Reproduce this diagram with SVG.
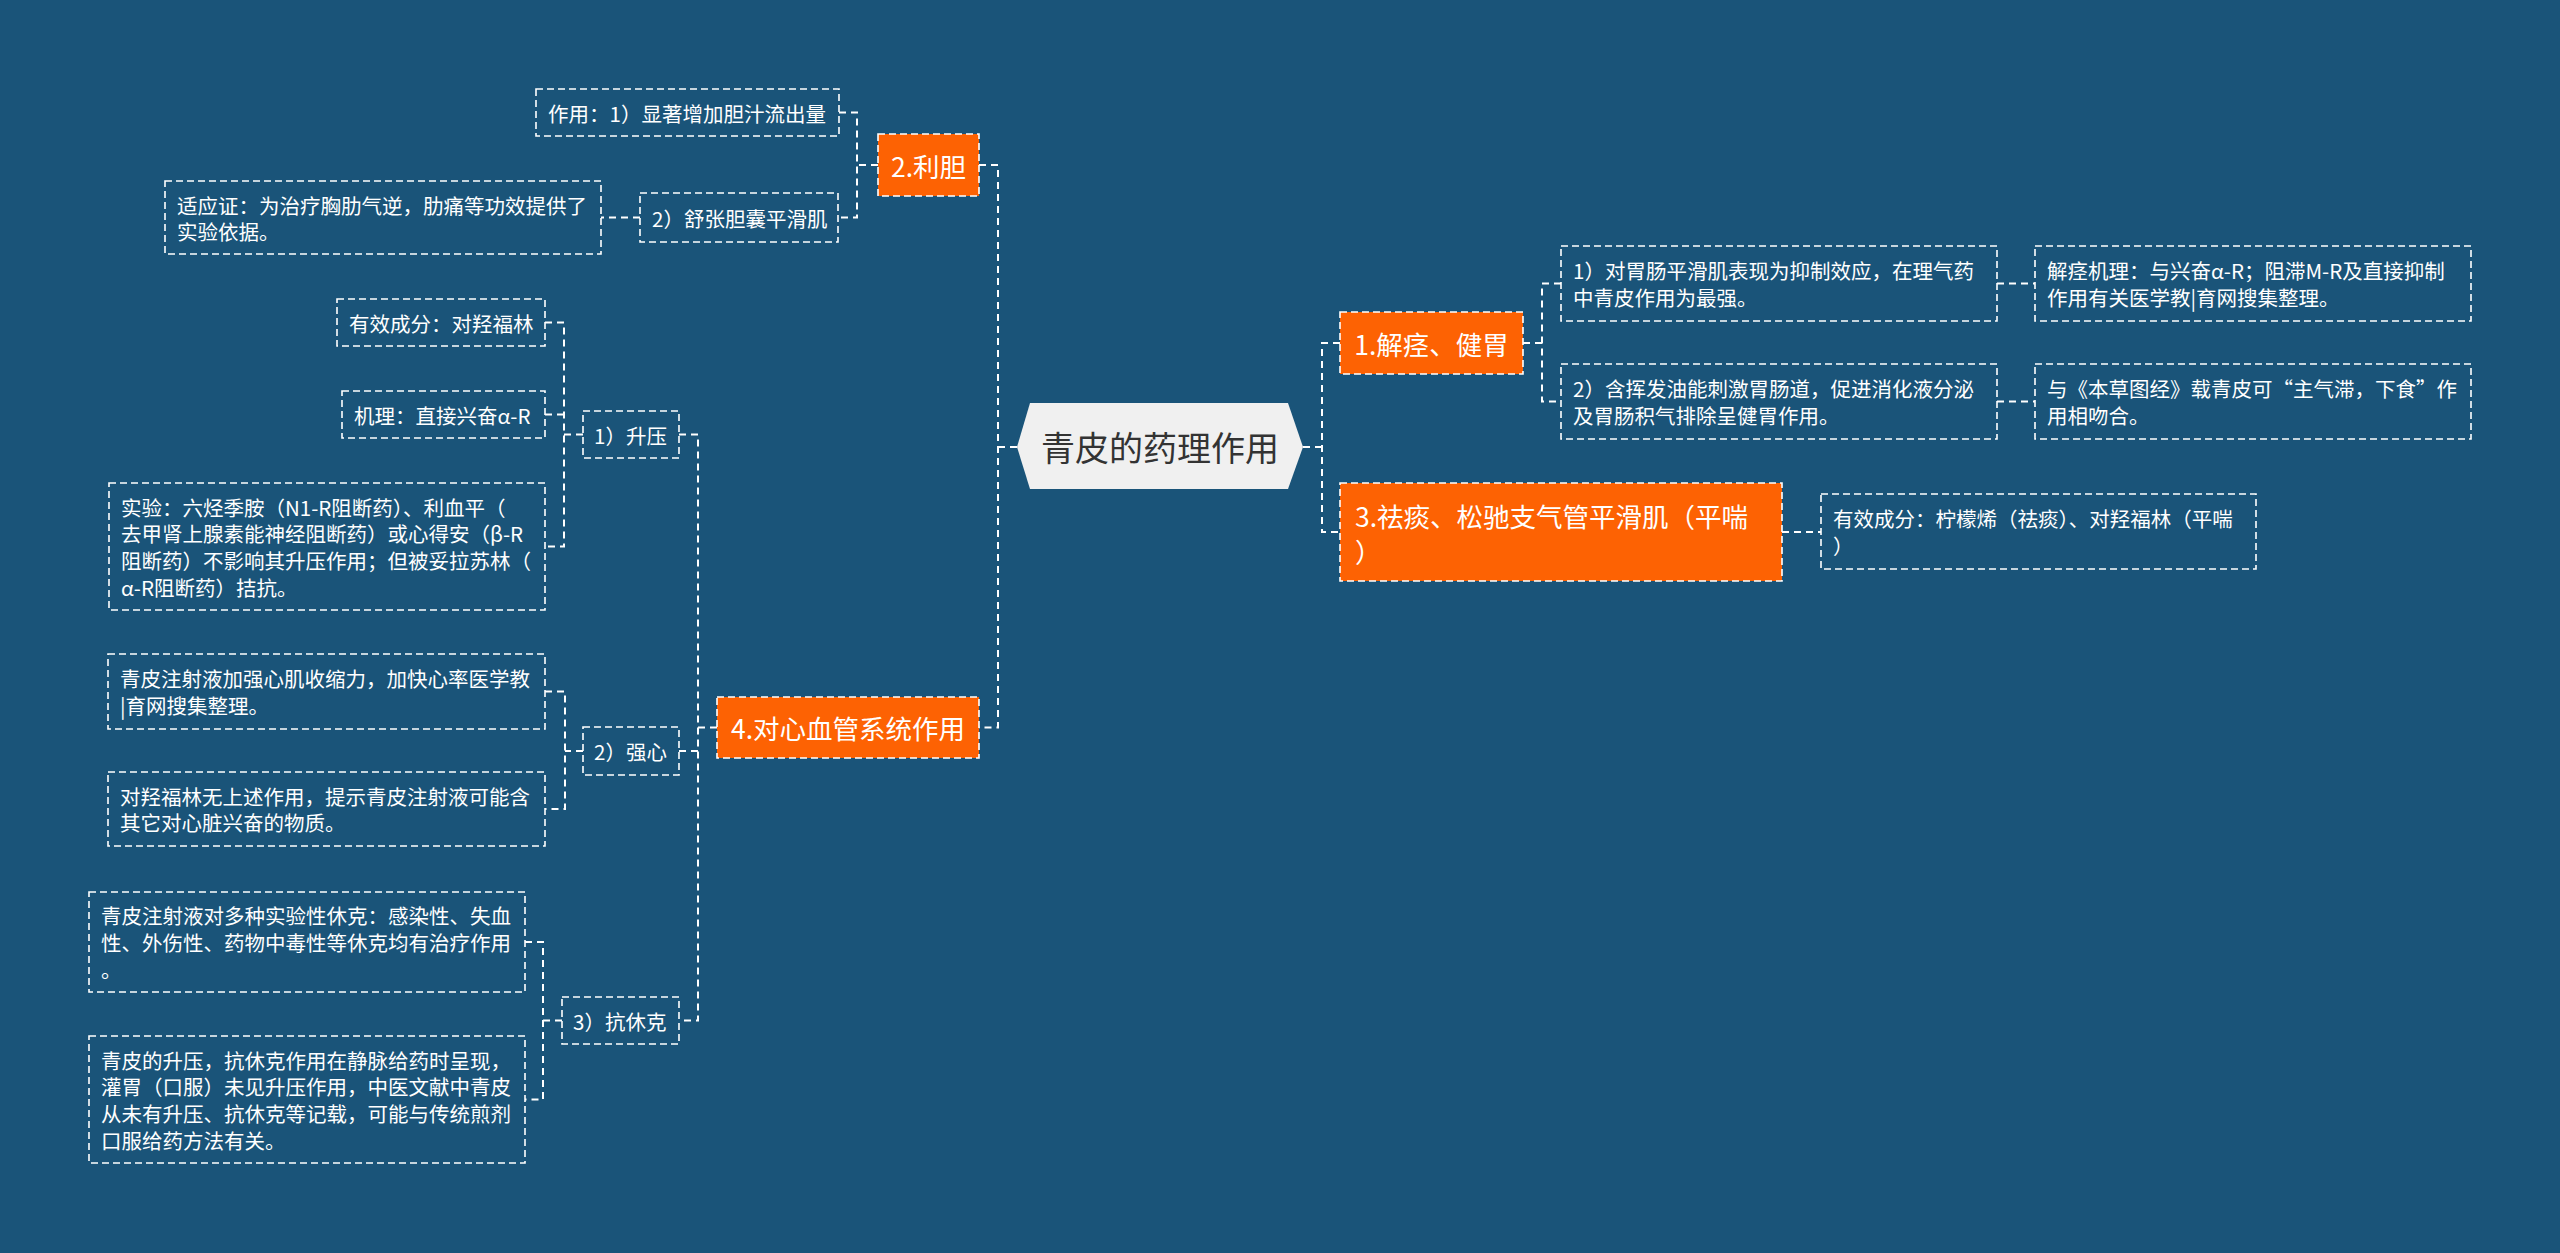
<svg xmlns="http://www.w3.org/2000/svg" width="2560" height="1253" viewBox="0 0 2560 1253">
<style>
.bg{fill:#1a5479}
.sub{fill:none;stroke:#ffffff;stroke-width:1.6;stroke-dasharray:7 4}
.main{fill:#fd6203;stroke:#ffffff;stroke-width:1.6;stroke-dasharray:7 4}
.st{font-family:"Noto Sans CJK SC","Noto Sans",sans-serif;font-size:20.5px;fill:#ffffff;dominant-baseline:central}
.mt{font-family:"Noto Sans CJK SC","Noto Sans",sans-serif;font-size:26.5px;fill:#ffffff;dominant-baseline:central}
.ct{font-family:"Noto Sans CJK SC","Noto Sans",sans-serif;font-size:34px;fill:#333333;dominant-baseline:central;text-anchor:middle}
.con{fill:none;stroke:#ffffff;stroke-width:2;stroke-dasharray:7 5}
</style>
<rect class="bg" x="0" y="0" width="2560" height="1253"/>
<g id="connectors">
<path class="con" d="M1017,447 H998 M979,165 H998 V727.5 H979"/>
<path class="con" d="M1303,447 H1322 M1340,343 H1322 V532 H1340"/>
<path class="con" d="M878,165 H857 M839,112.5 H857 V217.5 H839"/>
<path class="con" d="M640,217.5 H601"/>
<path class="con" d="M717,727.5 H698 M679,434.5 H698 V1020.5 H679 M698,751 H679"/>
<path class="con" d="M583,434.5 H564 M545,322.5 H564 V546.5 H545 M564,414.5 H545"/>
<path class="con" d="M583,751 H565 M545,691.5 H565 V809 H545"/>
<path class="con" d="M562,1020.5 H543 M525,942 H543 V1099.5 H525"/>
<path class="con" d="M1523,343 H1542 M1561,283.5 H1542 V401.5 H1561"/>
<path class="con" d="M1997,283.5 H2035"/>
<path class="con" d="M1997,401.5 H2035"/>
<path class="con" d="M1782,532 H1821"/>
</g>
<g id="root">
<polygon points="1017,447 1030,403 1288,403 1303,447 1288,489 1030,489" fill="#f0f0f0"/>
<text class="ct" x="1160" y="446">青皮的药理作用</text>
</g>
<g id="n2">
<rect class="main" x="878" y="134" width="101" height="62"/>
<text class="mt" x="928.5" y="165" text-anchor="middle">2.利胆</text>
</g>
<g id="n2a">
<rect class="sub" x="536" y="89" width="303" height="47"/>
<text class="st" x="548" y="112.5">作用：1）显著增加胆汁流出量</text>
</g>
<g id="n2b">
<rect class="sub" x="640" y="193" width="198" height="49"/>
<text class="st" x="652" y="217.5">2）舒张胆囊平滑肌</text>
</g>
<g id="n2b1">
<rect class="sub" x="165" y="181" width="436" height="73"/>
<text class="st" x="177"><tspan x="177" y="204.5">适应证：为治疗胸肋气逆，肋痛等功效提供了</tspan><tspan x="177" y="231">实验依据。</tspan></text>
</g>
<g id="n4">
<rect class="main" x="717" y="697" width="262" height="61"/>
<text class="mt" x="848" y="727.5" text-anchor="middle">4.对心血管系统作用</text>
</g>
<g id="n4a">
<rect class="sub" x="583" y="411" width="96" height="47"/>
<text class="st" x="594" y="434.5">1）升压</text>
</g>
<g id="n4a1">
<rect class="sub" x="337" y="299" width="208" height="47"/>
<text class="st" x="349" y="322.5">有效成分：对羟福林</text>
</g>
<g id="n4a2">
<rect class="sub" x="342" y="391" width="203" height="47"/>
<text class="st" x="354" y="414.5">机理：直接兴奋α-R</text>
</g>
<g id="n4a3">
<rect class="sub" x="109" y="483" width="436" height="127"/>
<text class="st"><tspan x="121" y="506.5">实验：六烃季胺（N1-R阻断药）、利血平（</tspan><tspan x="121" y="533.2">去甲肾上腺素能神经阻断药）或心得安（β-R</tspan><tspan x="121" y="559.8">阻断药）不影响其升压作用；但被妥拉苏林（</tspan><tspan x="121" y="586.5">α-R阻断药）拮抗。</tspan></text>
</g>
<g id="n4b">
<rect class="sub" x="583" y="727" width="96" height="48"/>
<text class="st" x="594" y="751">2）强心</text>
</g>
<g id="n4b1">
<rect class="sub" x="108" y="654" width="437" height="75"/>
<text class="st"><tspan x="120" y="678.2">青皮注射液加强心肌收缩力，加快心率医学教</tspan><tspan x="120" y="704.8">|育网搜集整理。</tspan></text>
</g>
<g id="n4b2">
<rect class="sub" x="108" y="772" width="437" height="74"/>
<text class="st"><tspan x="120" y="795.7">对羟福林无上述作用，提示青皮注射液可能含</tspan><tspan x="120" y="822.3">其它对心脏兴奋的物质。</tspan></text>
</g>
<g id="n4c">
<rect class="sub" x="562" y="997" width="117" height="47"/>
<text class="st" x="573" y="1020.5">3）抗休克</text>
</g>
<g id="n4c1">
<rect class="sub" x="89" y="892" width="436" height="100"/>
<text class="st"><tspan x="101" y="915.3">青皮注射液对多种实验性休克：感染性、失血</tspan><tspan x="101" y="942">性、外伤性、药物中毒性等休克均有治疗作用</tspan><tspan x="101" y="968.7">。</tspan></text>
</g>
<g id="n4c2">
<rect class="sub" x="89" y="1036" width="436" height="127"/>
<text class="st"><tspan x="101" y="1059.5">青皮的升压，抗休克作用在静脉给药时呈现，</tspan><tspan x="101" y="1086.2">灌胃（口服）未见升压作用，中医文献中青皮</tspan><tspan x="101" y="1112.8">从未有升压、抗休克等记载，可能与传统煎剂</tspan><tspan x="101" y="1139.5">口服给药方法有关。</tspan></text>
</g>
<g id="n1">
<rect class="main" x="1340" y="312" width="183" height="62"/>
<text class="mt" x="1431.5" y="343" text-anchor="middle">1.解痉、健胃</text>
</g>
<g id="n1a">
<rect class="sub" x="1561" y="246" width="436" height="75"/>
<text class="st"><tspan x="1573" y="270.2">1）对胃肠平滑肌表现为抑制效应，在理气药</tspan><tspan x="1573" y="296.8">中青皮作用为最强。</tspan></text>
</g>
<g id="n1a1">
<rect class="sub" x="2035" y="246" width="436" height="75"/>
<text class="st"><tspan x="2047" y="270.2">解痉机理：与兴奋α-R；阻滞M-R及直接抑制</tspan><tspan x="2047" y="296.8">作用有关医学教|育网搜集整理。</tspan></text>
</g>
<g id="n1b">
<rect class="sub" x="1561" y="364" width="436" height="75"/>
<text class="st"><tspan x="1573" y="388.2">2）含挥发油能刺激胃肠道，促进消化液分泌</tspan><tspan x="1573" y="414.8">及胃肠积气排除呈健胃作用。</tspan></text>
</g>
<g id="n1b1">
<rect class="sub" x="2035" y="364" width="436" height="75"/>
<text class="st"><tspan x="2047" y="388.2">与《本草图经》载青皮可“主气滞，下食”作</tspan><tspan x="2047" y="414.8">用相吻合。</tspan></text>
</g>
<g id="n3">
<rect class="main" x="1340" y="483" width="442" height="98"/>
<text class="mt"><tspan x="1355" y="514.5">3.祛痰、松驰支气管平滑肌（平喘</tspan><tspan x="1355" y="549.5">）</tspan></text>
</g>
<g id="n3a">
<rect class="sub" x="1821" y="494" width="435" height="75"/>
<text class="st"><tspan x="1833" y="518.2">有效成分：柠檬烯（祛痰）、对羟福林（平喘</tspan><tspan x="1833" y="544.8">）</tspan></text>
</g>
</svg>
